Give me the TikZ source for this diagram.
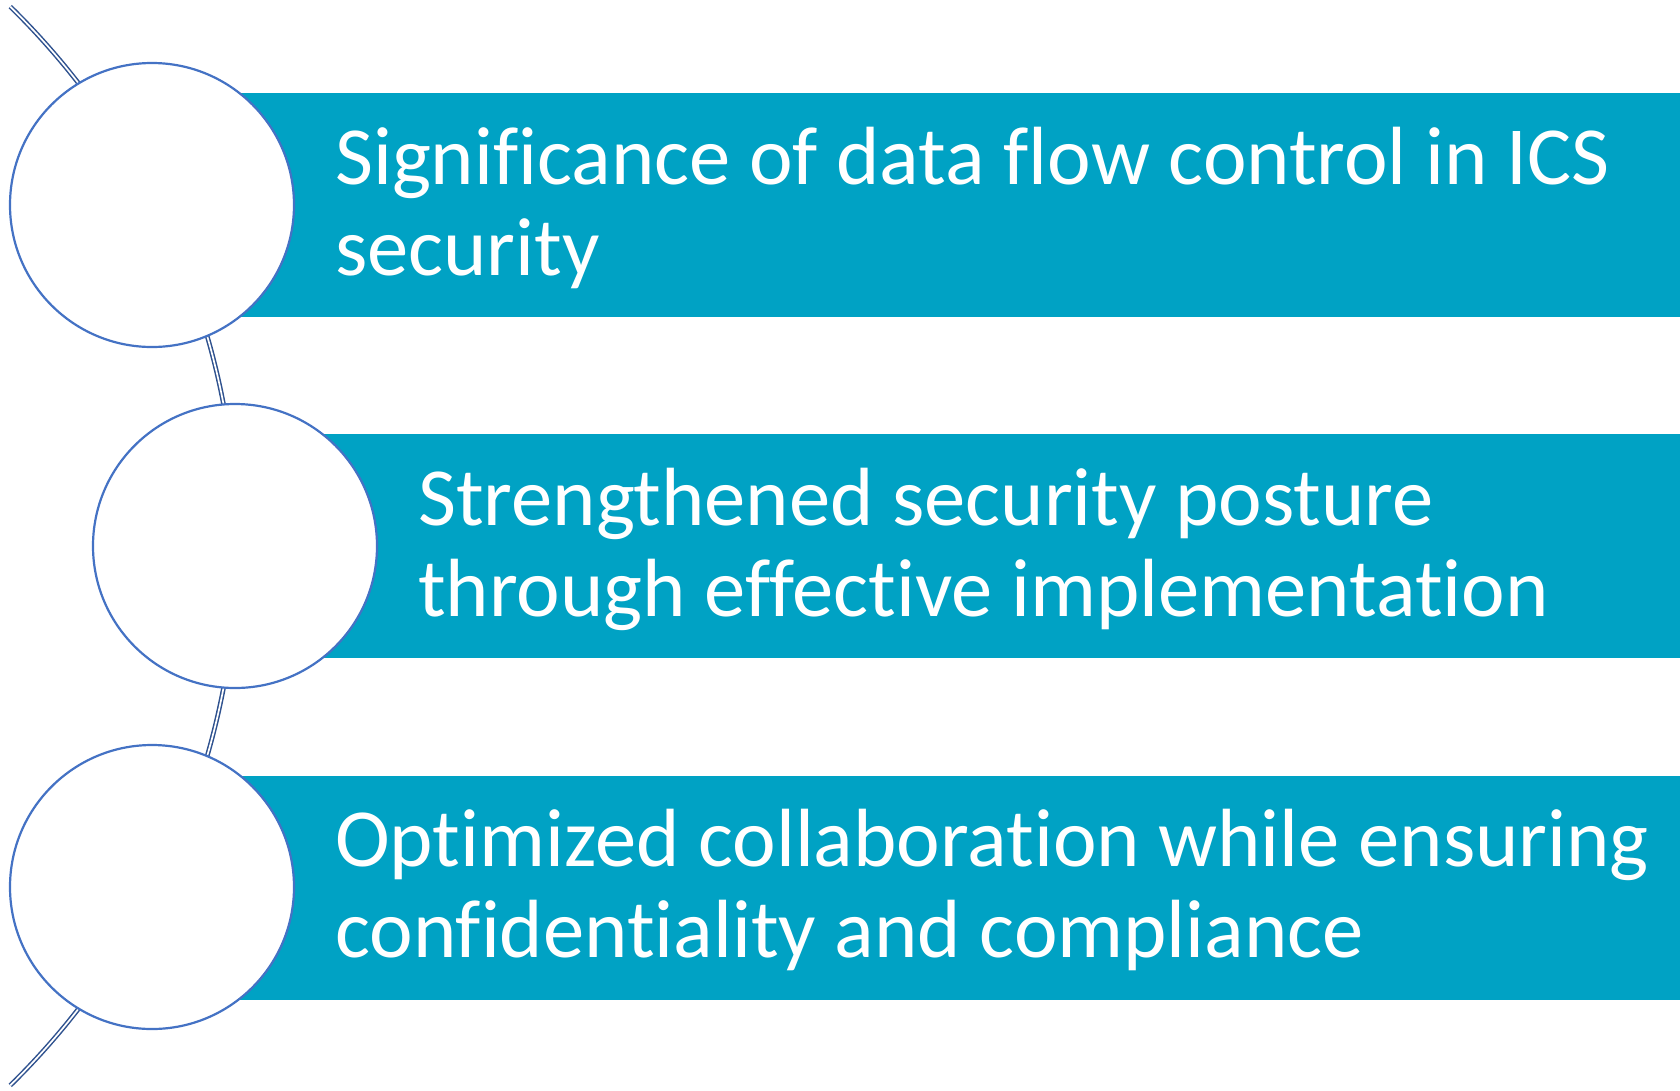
\documentclass[tikz,border=0pt]{standalone}
\usepackage{fontspec}
\setmainfont{Carlito}[Ligatures=NoCommon]
\usepackage{tikz}
\usepackage{xcolor}

\definecolor{barblue}{HTML}{00A2C4}
\definecolor{ringblue}{HTML}{4472C4}
\definecolor{arcblue}{HTML}{2F528F}

\tikzset{
	bullet/.style={circle, draw=ringblue, line width=2.2pt, fill=white, minimum size=284pt, inner sep=0pt},
	label/.style={anchor=west, align=left, text=white, inner sep=0pt, font=\fontsize{82.6}{91}\selectfont}
}

\begin{document}
\begin{tikzpicture}[x=1pt, y=-1pt]
			\useasboundingbox (0,0) rectangle (1680,1090);

			% the spine behind the circles
			\draw[arcblue, line width=1.5pt, double=white, double distance=1.7pt] (-518,546) ++(-45.6:755) arc (-45.6:45.6:755);

			\fill[barblue] (152,93) rectangle (1680,317);
			\fill[barblue] (235,434) rectangle (1680,658);
			\fill[barblue] (152,776) rectangle (1680,1000);

			\node[bullet] (c1) at (152,205) {};
			\node[bullet] (c2) at (235,546) {};
			\node[bullet] (c3) at (152,887) {};

			\node[label] (t1) at (335,208) {Significance of data flow control in ICS\\security};
			\node[label] (t2) at (418,549) {Strengthened security posture\\through effective implementation};
			\node[label] (t3) at (335,890) {Optimized collaboration while ensuring\\confidentiality and compliance};

		\end{tikzpicture}
\end{document}
